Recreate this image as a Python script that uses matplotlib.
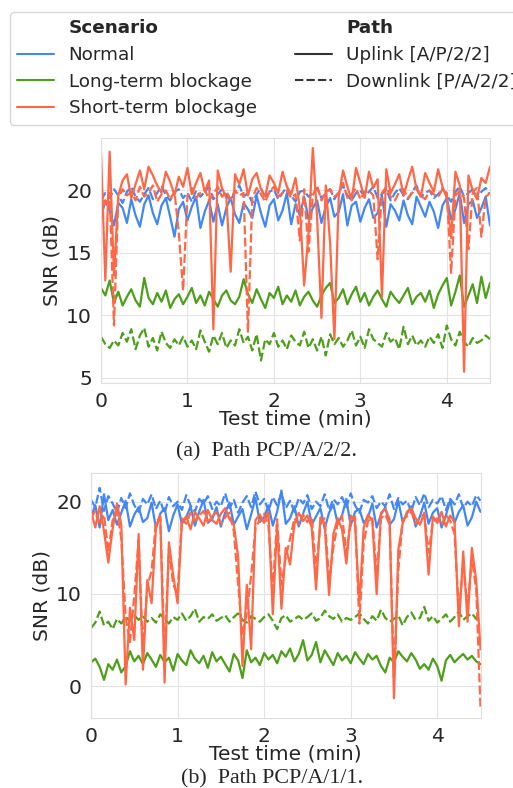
import numpy as np
import matplotlib
matplotlib.use('Agg')
import matplotlib.pyplot as plt
from matplotlib.lines import Line2D
import seaborn as sns

sns.set_style('whitegrid', {'grid.color': '0.89', 'axes.edgecolor': '0.87'})
plt.rcParams['font.family'] = ['DejaVu Sans']

# time grid (min), one sample every 3 s
t = np.linspace(0, 4.5, 91)

# ---- path PCP/A/2/2 ----
a_norm_up = [17.8, 19.2, 18.4, 17.2, 19.0, 18.6, 17.4, 19.3, 18.0, 17.1,
             18.9, 19.6, 18.2, 17.3, 18.8, 19.4, 17.9, 16.3, 18.5, 19.1,
             17.6, 18.7, 19.5, 17.0, 18.3, 19.2, 17.5, 18.9, 17.2, 18.6,
             19.4, 18.1, 17.4, 19.0, 18.5, 17.8, 19.6, 18.2, 17.1, 18.8,
             19.3, 17.6, 18.4, 19.8, 17.3, 18.9, 18.0, 19.5, 17.7, 18.6,
             19.2, 17.4, 18.7, 19.4, 17.9, 18.3, 19.7, 17.2, 18.8, 19.1,
             17.5, 18.6, 19.3, 17.8, 18.2, 19.6, 17.1, 18.9, 18.4, 17.6,
             19.2, 18.0, 17.3, 19.5, 18.7, 17.9, 19.1, 18.3, 17.0, 18.8,
             19.4, 17.7, 18.5, 19.8, 17.4, 18.9, 19.2, 17.8, 18.6, 19.5,
             17.2]
a_norm_dn = [19.2, 19.8, 19.4, 20.1, 19.6, 19.0, 19.9, 20.3, 19.5, 19.1,
             19.7, 20.2, 19.3, 19.8, 20.4, 19.6, 19.2, 19.9, 20.1, 19.4,
             19.8, 19.1, 20.0, 19.5, 19.9, 20.3, 19.3, 19.7, 20.1, 19.6,
             19.2, 19.9, 20.4, 19.5, 19.8, 19.0, 19.7, 20.2, 19.4, 19.9,
             20.1, 19.3, 19.8, 20.3, 19.6, 19.1, 19.9, 20.0, 19.5, 19.8,
             20.2, 19.4, 19.7, 20.1, 19.3, 19.9, 20.4, 19.6, 19.2, 19.8,
             20.0, 19.5, 19.9, 20.3, 19.4, 19.7, 20.1, 19.2, 19.8, 20.2,
             19.6, 19.3, 19.9, 20.4, 19.5, 19.8, 20.0, 19.4, 19.7, 20.2,
             19.6, 19.1, 19.9, 20.3, 19.5, 19.8, 20.1, 19.4, 19.9, 20.2,
             19.7]
a_long_up = [12.2, 11.6, 12.8, 11.0, 11.9, 10.8, 11.5, 12.1, 11.2, 10.7,
             13.0, 11.4, 10.9, 11.8, 11.1, 12.0, 10.6, 11.3, 11.7, 10.9,
             11.5, 12.2, 11.0, 11.6, 10.8, 11.9, 11.3, 10.7, 11.6, 12.0,
             11.2, 10.9, 11.5, 12.9, 11.7, 11.0, 12.1, 11.3, 10.6, 11.8,
             11.4, 12.3, 10.9, 11.6, 11.1, 12.0, 10.8, 11.5, 11.9, 11.2,
             10.7, 11.6, 12.2, 12.6, 11.0, 11.4, 12.1, 10.9, 11.7, 12.3,
             11.1, 11.8, 10.8, 11.5, 12.0, 11.3, 10.7, 11.9, 11.4, 11.0,
             11.6, 12.2, 10.9, 11.5, 11.8, 11.1, 12.0, 10.6, 11.7, 12.4,
             13.0, 10.8, 11.9, 13.2, 10.7, 11.6, 12.5, 11.0, 13.1, 11.4,
             12.6]
a_long_dn = [8.3, 7.7, 7.4, 8.0, 7.6, 8.6, 7.9, 8.9, 7.3, 8.4,
             9.0, 7.5, 8.2, 7.2, 8.7, 7.8, 7.4, 8.1, 7.6, 8.3,
             7.5, 8.0, 7.3, 8.8, 7.9, 7.1, 8.4, 7.7, 8.6, 7.4,
             8.0, 7.6, 8.9, 7.8, 8.3, 7.2, 8.5, 6.4, 8.1, 7.7,
             8.6, 7.5, 8.0, 7.3, 8.4, 7.9, 7.6, 8.7, 7.4, 8.1,
             7.2, 8.3, 6.8, 8.5, 7.7, 8.2, 7.5, 8.0, 8.8, 7.6,
             8.3, 7.4, 8.9, 8.1, 7.8, 7.5, 8.6, 7.9, 8.2, 7.3,
             9.1, 7.7, 8.4, 7.6, 8.0, 7.5, 8.3, 7.8, 8.5, 7.4,
             9.2, 8.1, 7.6, 8.7, 7.9, 7.5, 8.2, 7.8, 8.0, 8.4,
             8.1]
a_short_up = [23.0, 12.8, 23.1, 13.2, 19.6, 20.8, 21.3, 19.4, 20.5, 21.6,
              20.1, 21.9, 21.2, 20.4, 19.8, 21.5, 20.7, 19.6, 21.1, 20.3,
              21.8, 19.7, 20.6, 21.4, 19.9, 20.8, 8.9, 21.6, 20.2, 19.4,
              13.5, 21.3, 20.5, 21.7, 19.6, 20.9, 21.4, 20.1, 19.5, 21.2,
              20.6, 19.8, 21.5, 20.3, 19.7, 21.0, 18.6, 12.4, 16.5, 23.4,
              17.8, 9.8, 20.4, 15.8, 8.1, 19.5, 21.6, 20.3, 19.2, 21.8,
              20.6, 19.4, 21.5, 20.2, 20.9, 11.5, 21.7, 19.8, 20.5, 21.3,
              19.6, 20.8, 21.9, 20.1, 19.5, 21.4, 20.6, 19.9, 21.7, 20.3,
              19.4, 16.2, 21.5, 20.4, 5.5, 21.2, 20.0, 19.3, 21.0, 20.6,
              21.9]
a_short_dn = [20.2, 18.9, 19.8, 9.2, 19.4, 20.1, 19.6, 19.9, 19.2, 20.3,
              19.5, 19.8, 20.4, 19.1, 19.7, 20.0, 19.3, 19.9, 16.6, 12.0,
              19.6, 20.2, 19.4, 19.8, 20.1, 19.2, 19.7, 20.3, 19.5, 19.9,
              19.3, 20.0, 19.6, 19.8, 8.7, 19.4, 20.2, 19.7, 19.1, 19.9,
              20.3, 19.5, 19.8, 20.0, 19.4, 19.7, 16.0, 20.1, 15.1, 19.6,
              20.4, 19.2, 19.9, 20.1, 19.5, 19.8, 20.6, 19.4, 19.7, 20.2,
              19.3, 19.9, 20.0, 19.6, 14.5, 19.8, 20.3, 19.5, 19.2, 19.9,
              20.1, 19.4, 19.8, 20.2, 19.6, 19.3, 20.0, 19.7, 19.5, 20.1,
              19.8, 13.4, 19.6, 20.0, 19.4, 15.3, 19.9, 20.2, 16.3, 19.5,
              19.8]

# ---- path PCP/A/1/1 ----
b_norm_up = [18.4, 19.6, 17.2, 20.8, 18.0, 19.1, 17.5, 18.8, 20.1, 17.3,
             18.6, 19.4, 17.8, 18.2, 19.9, 17.1, 18.7, 19.3, 16.8, 18.5,
             19.7, 17.6, 18.3, 19.5, 17.4, 18.9, 20.2, 17.7, 18.1, 19.4,
             17.3, 18.8, 19.9, 17.5, 18.4, 19.2, 17.0, 18.6, 20.4, 17.8,
             18.3, 19.6, 17.4, 18.9, 21.2, 17.6, 18.2, 19.5, 17.3, 18.7,
             20.0, 17.5, 18.4, 19.3, 17.1, 18.8, 19.7, 17.6, 18.5, 20.3,
             17.4, 18.9, 19.2, 17.7, 18.3, 19.8, 17.2, 18.6, 19.4, 17.5,
             18.1, 20.1, 17.8, 18.7, 19.5, 17.3, 18.4, 19.9, 17.6, 18.8,
             19.3, 17.2, 18.5, 20.2, 17.7, 18.9, 19.6, 17.4, 18.3, 20.0,
             18.9]
b_norm_dn = [20.2, 19.4, 21.5, 19.0, 20.6, 19.8, 18.8, 20.4, 19.3, 20.9,
             19.6, 18.9, 20.3, 19.7, 20.8, 19.2, 20.1, 18.7, 20.5, 19.5,
             20.0, 19.1, 20.7, 19.6, 18.9, 20.3, 19.8, 20.6, 19.2, 20.0,
             19.5, 20.9, 19.3, 20.2, 18.8, 19.9, 20.6, 19.4, 21.1, 19.7,
             20.3, 19.0, 20.5, 19.6, 20.9, 19.3, 20.1, 18.9, 20.4, 19.8,
             20.7, 19.2, 20.0, 19.5, 20.8, 19.1, 20.3, 19.7, 20.5, 19.4,
             20.9, 19.6, 18.8, 20.2, 19.9, 20.6, 19.3, 20.0, 19.5, 20.8,
             19.2, 20.4, 19.7, 20.1, 18.9, 20.5, 19.6, 20.9, 19.4, 20.2,
             19.8, 20.6, 19.1, 20.3, 19.7, 20.8, 19.3, 20.0, 19.5, 20.7,
             20.1]
b_long_up = [2.6, 3.0, 2.1, 0.7, 2.4, 1.8, 2.9, 1.5, 2.2, 3.8,
             2.7, 3.3, 2.4, 3.6, 2.9, 2.1, 3.4, 2.6, 3.1, 1.7,
             3.5, 2.8, 2.3, 3.9, 3.0, 2.5, 3.3, 2.0, 3.7, 2.7,
             3.2, 2.4, 1.6, 3.5, 2.8, 0.9, 3.9, 2.6, 3.1, 2.3,
             3.6, 2.9, 3.4, 2.5, 3.8, 3.2, 4.1, 2.7, 3.5, 5.0,
             2.8, 3.4, 4.8, 2.6, 3.9, 3.1, 2.3, 3.6, 2.8, 3.3,
             2.5, 3.7, 3.0, 2.4, 3.5, 2.9, 3.3, 2.2, 1.5, 3.1,
             2.6, 3.8, 3.2, 2.7, 3.6, 2.9, 1.9, 2.4, 1.8, 3.0,
             2.2, 0.6, 2.8, 3.4, 2.6, 3.1, 3.5, 2.9, 3.3, 2.7,
             2.4]
b_long_dn = [6.3, 6.9, 8.1, 6.6, 7.0, 6.2, 7.3, 6.8, 7.5, 7.1,
             7.7, 7.2, 7.6, 7.0, 7.4, 6.9, 7.8, 7.3, 6.8, 7.5,
             7.2, 7.9, 7.1, 7.6, 8.4, 7.0, 7.5, 7.3, 7.8, 7.1,
             7.4, 7.7, 7.0, 7.5, 7.9, 7.2, 6.9, 7.6, 7.3, 7.0,
             7.5, 7.8, 7.1, 6.2, 7.4, 7.7, 7.0, 7.3, 7.6, 7.2,
             7.5, 7.9, 7.1, 7.4, 8.2, 7.6, 7.3, 7.8, 7.0, 7.4,
             7.2, 7.5, 7.9, 7.3, 6.8, 7.6, 7.1, 8.3, 7.4, 7.0,
             7.3, 7.7, 6.6, 7.5, 8.0, 7.2, 7.4, 8.6, 7.1, 7.6,
             6.9, 7.3, 7.8, 7.0, 7.5, 8.1, 7.2, 7.6, 7.9, 7.3,
             7.8]
b_short_up = [18.9, 17.2, 19.5, 16.8, 13.4, 17.1, 19.8, 17.5, 0.2, 8.5,
              5.0, 16.5, 1.8, 11.5, 9.0, 17.2, 18.5, 0.4, 15.6, 12.0,
              9.0, 17.8, 18.4, 17.0, 18.9, 18.2, 17.4, 19.1, 18.0, 17.6,
              18.7, 19.3, 18.1, 17.5, 14.0, 2.2, 11.0, 4.0, 18.0, 18.6,
              17.7, 18.9, 7.8, 17.5, 8.4, 15.0, 13.2, 17.6, 18.8, 17.9,
              18.5, 17.2, 10.5, 18.3, 17.5, 9.9, 16.5, 18.2, 17.0, 13.3,
              18.5, 17.8, 8.8, 17.2, 18.6, 17.9, 10.0, 18.8, 19.2, 18.1,
              -1.3, 14.8, 17.6, 18.9, 19.3, 18.2, 17.5, 18.8, 12.1, 18.4,
              17.7, 18.9, 17.3, 18.5, 17.8, 6.5, 14.6, 7.0, 15.0, 11.5,
              4.0]
b_short_dn = [18.2, 19.0, 17.5, 18.6, 14.5, 18.0, 18.9, 16.0, 7.5, 4.8,
              9.8, 15.8, 4.0, 10.8, 12.5, 17.8, 18.3, 3.5, 14.8, 11.0,
              10.0, 18.2, 17.6, 18.8, 17.9, 18.5, 19.0, 17.8, 18.4, 18.9,
              17.6, 18.3, 18.8, 16.8, 11.0, 5.5, 8.0, 12.0, 17.2, 18.0,
              18.7, 17.4, 10.5, 18.1, 11.0, 14.0, 16.0, 18.2, 17.5, 18.6,
              17.8, 18.4, 12.5, 17.6, 18.2, 11.5, 15.0, 17.7, 18.5, 14.5,
              17.6, 18.4, 6.8, 15.5, 17.9, 18.3, 12.0, 18.2, 18.6, 17.5,
              1.0, 12.5, 18.0, 18.4, 18.9, 17.6, 18.3, 18.6, 14.5, 17.8,
              18.2, 17.5, 18.6, 17.9, 16.5, 8.0, 13.2, 8.5, 13.8, 10.5,
              -2.4]

scenarios = ['Normal', 'Long-term blockage', 'Short-term blockage']
paths = ['Uplink [A/P/2/2]', 'Downlink [P/A/2/2]']
colors = ['#4287f5', '#4d9e1a', '#ff6745']
dash_styles = [(None, None), (4, 1.5)]

panel_a = [[a_norm_up, a_norm_dn], [a_long_up, a_long_dn], [a_short_up, a_short_dn]]
panel_b = [[b_norm_up, b_norm_dn], [b_long_up, b_long_dn], [b_short_up, b_short_dn]]

fig = plt.figure(figsize=(5.13, 7.88), dpi=100)

ax_a = fig.add_axes([0.1969, 0.5140, 0.7583, 0.3109])
ax_b = fig.add_axes([0.1774, 0.0892, 0.7593, 0.3105])


def draw(ax, panel, ylim, yticks):
    for c, series in enumerate(panel):
        for s, y in enumerate(series):
            ln, = ax.plot(t, y, color=colors[c], lw=1.6)
            if s == 1:
                ln.set_dashes(dash_styles[1])
    ax.set_xlim(0, 4.5)
    ax.set_ylim(*ylim)
    ax.set_yticks(yticks)
    ax.set_xticks([0, 1, 2, 3, 4])
    ax.tick_params(labelsize=14.6, pad=3)
    ax.set_xlabel('Test time (min)', fontsize=14.6, labelpad=-1)
    ax.set_ylabel('SNR (dB)', fontsize=14.6, labelpad=3)


draw(ax_a, panel_a, (4.6, 24.2), [5, 10, 15, 20])
draw(ax_b, panel_b, (-3.4, 23.1), [0, 10, 20])

fig.text(266.7 / 513, 1 - 456 / 788, '(a)  Path PCP/A/2/2.', family='Liberation Serif',
         fontsize=15.8, ha='center', va='baseline')
fig.text(272 / 513, 1 - 783 / 788, '(b)  Path PCP/A/1/1.', family='Liberation Serif',
         fontsize=15.8, ha='center', va='baseline')

# legend with seaborn-like section headers
blank = Line2D([], [], color='none')
handles = [blank]
labels = ['Scenario']
for c, name in enumerate(scenarios):
    handles.append(Line2D([], [], color=colors[c], lw=1.5))
    labels.append(name)
handles.append(blank)
labels.append('Path')
up = Line2D([], [], color='#333333', lw=1.5)
dn = Line2D([], [], color='#333333', lw=1.5)
dn.set_dashes(dash_styles[1])
handles += [up, dn, blank]
labels += paths + ['']

leg = fig.legend(handles, labels, ncol=2, loc='upper left',
                 bbox_to_anchor=(10 / 513, 1 - 12 / 788), borderaxespad=0,
                 fontsize=13.2, labelspacing=0.47, columnspacing=2.1,
                 frameon=True)
for txt in leg.get_texts():
    if txt.get_text() in ('Scenario', 'Path'):
        txt.set_fontweight('bold')

fig.savefig('out.png', dpi=100)
